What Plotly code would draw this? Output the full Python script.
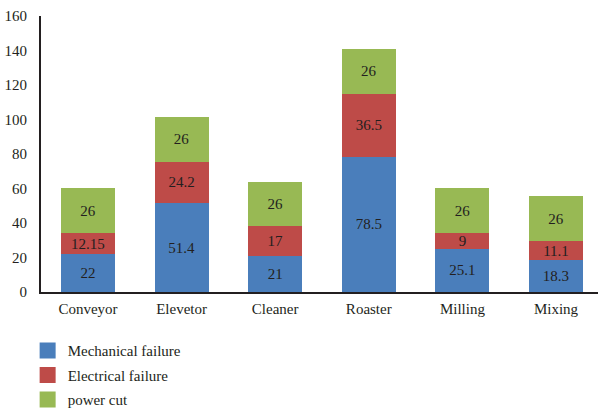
import plotly.graph_objects as go

# Equipment categories and downtime causes
categories = ["Conveyor", "Elevetor", "Cleaner", "Roaster", "Milling", "Mixing"]
mechanical = [22, 51.4, 21, 78.5, 25.1, 18.3]
electrical = [12.15, 24.2, 17, 36.5, 9, 11.1]
power_cut = [26, 26, 26, 26, 26, 26]
y_ticks = [0, 20, 40, 60, 80, 100, 120, 140, 160]

series = [
    ("Mechanical failure", mechanical, "#4A7EBB"),
    ("Electrical failure", electrical, "#BE4B48"),
    ("power cut", power_cut, "#98B954"),
]

FONT = "Liberation Serif, Times New Roman, serif"
TEXT_COLOR = "#231F20"

fig = go.Figure()
for name, vals, color in series:
    fig.add_trace(go.Bar(
        x=categories, y=vals, name=name,
        marker=dict(color=color, line=dict(width=0)),
        text=[f"{v:g}" for v in vals],
        textposition="inside", insidetextanchor="middle", textangle=0,
        textfont=dict(family=FONT, size=15, color=TEXT_COLOR),
        insidetextfont=dict(family=FONT, size=15, color=TEXT_COLOR),
        width=0.577, showlegend=False, legendgroup=name,
    ))
    # legend entry with a larger square swatch
    fig.add_trace(go.Scatter(
        x=[None], y=[None], mode="markers", name=name, legendgroup=name,
        marker=dict(symbol="square", size=16, color=color),
    ))

fig.update_layout(
    barmode="stack",
    width=598, height=409,
    margin=dict(l=41, r=0, t=16, b=117, autoexpand=False),
    paper_bgcolor="white", plot_bgcolor="white",
    font=dict(family=FONT, size=15, color=TEXT_COLOR),
    uniformtext=dict(mode="show", minsize=15),
    legend=dict(
        orientation="v", x=-0.024, xanchor="left", y=-0.153, yanchor="top",
        traceorder="grouped", tracegroupgap=2,
        font=dict(family=FONT, size=15, color=TEXT_COLOR),
        bgcolor="rgba(0,0,0,0)",
    ),
)
fig.update_xaxes(
    type="category", range=[-0.502, 5.449],
    showline=True, linecolor="#231F20", linewidth=2,
    showgrid=False, ticks="", ticklabelstandoff=2,
    tickfont=dict(family=FONT, size=15, color=TEXT_COLOR),
)
fig.update_yaxes(
    range=[0, 160], tickvals=y_ticks,
    showline=True, linecolor="#231F20", linewidth=2,
    showgrid=False, zeroline=False, ticks="", ticklabelstandoff=9,
    tickfont=dict(family=FONT, size=15, color=TEXT_COLOR),
)

fig.write_html("out.html")
